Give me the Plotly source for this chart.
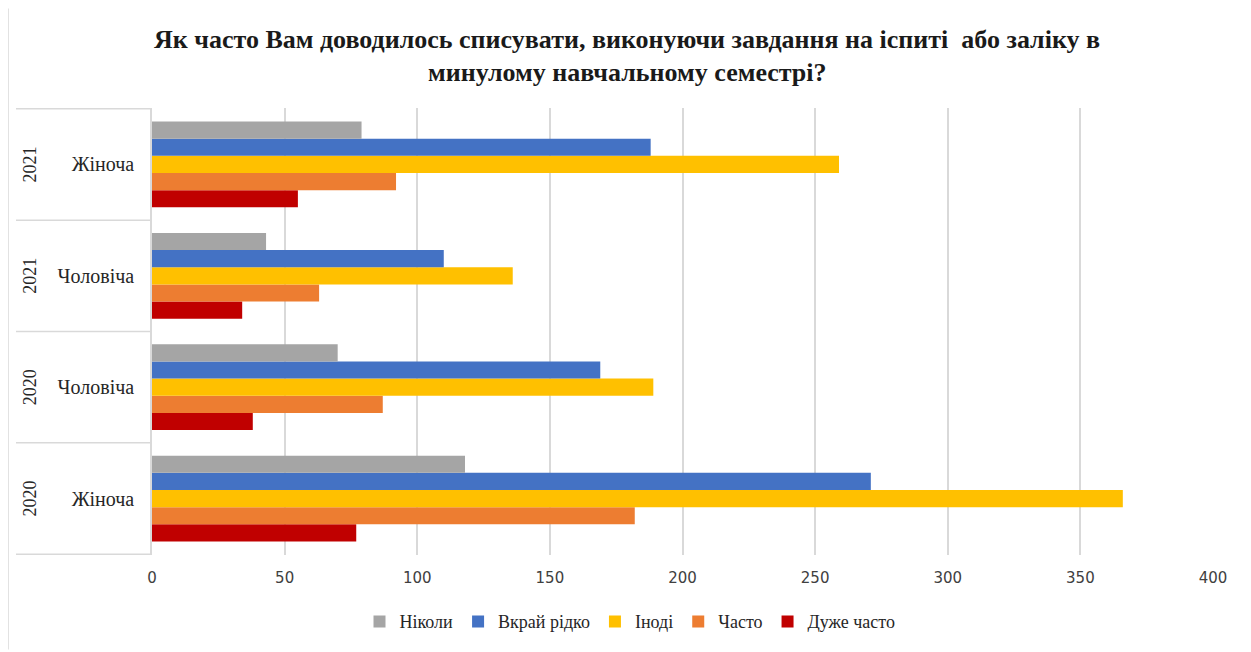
import plotly.graph_objects as go

#------------------------------------------------------------
#                          DATA
#------------------------------------------------------------

# groups from bottom to top
years = ['2020', '2020', '2021', '2021']
genders = ['Жіноча', 'Чоловіча', 'Чоловіча', 'Жіноча']

nikoly = [118, 70, 43, 79]            # Ніколи
vkrai_ridko = [271, 169, 110, 188]    # Вкрай рідко
inodi = [366, 189, 136, 259]          # Іноді
chasto = [182, 87, 63, 92]            # Часто
duzhe_chasto = [77, 38, 34, 55]       # Дуже часто

x_ticks = [0, 50, 100, 150, 200, 250, 300, 350, 400]

title_lines = ['Як часто Вам доводилось списувати, виконуючи завдання на іспиті  або заліку в',
               'минулому навчальному семестрі?']

#------------------------------------------------------------
#                          PLOT
#------------------------------------------------------------

cats = [y + ' ' + g for y, g in zip(years, genders)]

# first trace sits at the bottom of each group
series = [
    ('Дуже часто', duzhe_chasto, '#C00000'),
    ('Часто', chasto, '#ED7D31'),
    ('Іноді', inodi, '#FFC000'),
    ('Вкрай рідко', vkrai_ridko, '#4472C4'),
    ('Ніколи', nikoly, '#A5A5A5'),
]

fig = go.Figure()
for name, vals, col in series:
    fig.add_trace(go.Bar(y=cats, x=vals, name=name, orientation='h',
                         marker_color=col, marker_line_width=0))

SERIF = '"Times New Roman", "Liberation Serif", serif'

# page body has an 8px margin, so everything is placed 8px up/left
OFF = 8
W, H = 1251 - OFF, 652 - OFF
L, R, T, B = 152 - OFF, 38, 108 - OFF, 95
pw, ph = W - L - R, H - T - B

def px_x(p):
    return (p - OFF - L) / pw

def px_y(p):
    return (H - B - (p - OFF)) / ph

grey = '#D9D9D9'
shapes = []
# group dividers in the label area
for k in range(len(cats) + 1):
    shapes.append(dict(type='line', xref='paper', yref='y',
                       x0=px_x(16), x1=0, y0=k - 0.5, y1=k - 0.5,
                       line=dict(color=grey, width=1.5)))
# chart outer border (top and left)
shapes.append(dict(type='line', xref='paper', yref='paper',
                   x0=px_x(8), x1=px_x(1251), y0=px_y(4), y1=px_y(4),
                   line=dict(color=grey, width=1.5)))
shapes.append(dict(type='line', xref='paper', yref='paper',
                   x0=px_x(8), x1=px_x(8), y0=px_y(8), y1=px_y(652),
                   line=dict(color=grey, width=1.5)))

annotations = []
for c, y in zip(cats, years):
    annotations.append(dict(text=y, x=px_x(30), xref='paper', xanchor='center',
                            y=c, yref='y', showarrow=False, textangle=-90,
                            font=dict(family=SERIF, size=18, color='#262626')))
for line, yc in zip(title_lines, [39, 72]):
    annotations.append(dict(text='<b>' + line + '</b>', x=px_x(627), xref='paper', xanchor='center',
                            y=px_y(yc), yref='paper', yanchor='middle', showarrow=False,
                            font=dict(family=SERIF, size=26, color='#1a1a1a')))

fig.update_layout(
    width=W, height=H,
    margin=dict(l=L, r=R, t=T, b=B),
    barmode='group', bargap=0.23, bargroupgap=0,
    plot_bgcolor='white', paper_bgcolor='white',
    xaxis=dict(range=[0, 400], tickvals=x_ticks, showgrid=True, gridcolor=grey, gridwidth=1.5,
               zeroline=False, showline=False, ticks='', ticklabelstandoff=12,
               tickfont=dict(family='DejaVu Sans', size=15, color='#404040')),
    yaxis=dict(type='category', showgrid=False, showline=True, linecolor=grey, linewidth=1.5,
               ticks='', ticklabelstandoff=12,
               tickvals=cats, ticktext=genders,
               tickfont=dict(family=SERIF, size=20, color='#262626')),
    legend=dict(orientation='h', traceorder='reversed', x=(630 - OFF - L) / pw, xanchor='center',
                y=px_y(624), yanchor='middle', itemwidth=30, entrywidthmode='pixels',
                font=dict(family=SERIF, size=18, color='#262626')),
    shapes=shapes, annotations=annotations,
)

fig.write_html('out.html')
